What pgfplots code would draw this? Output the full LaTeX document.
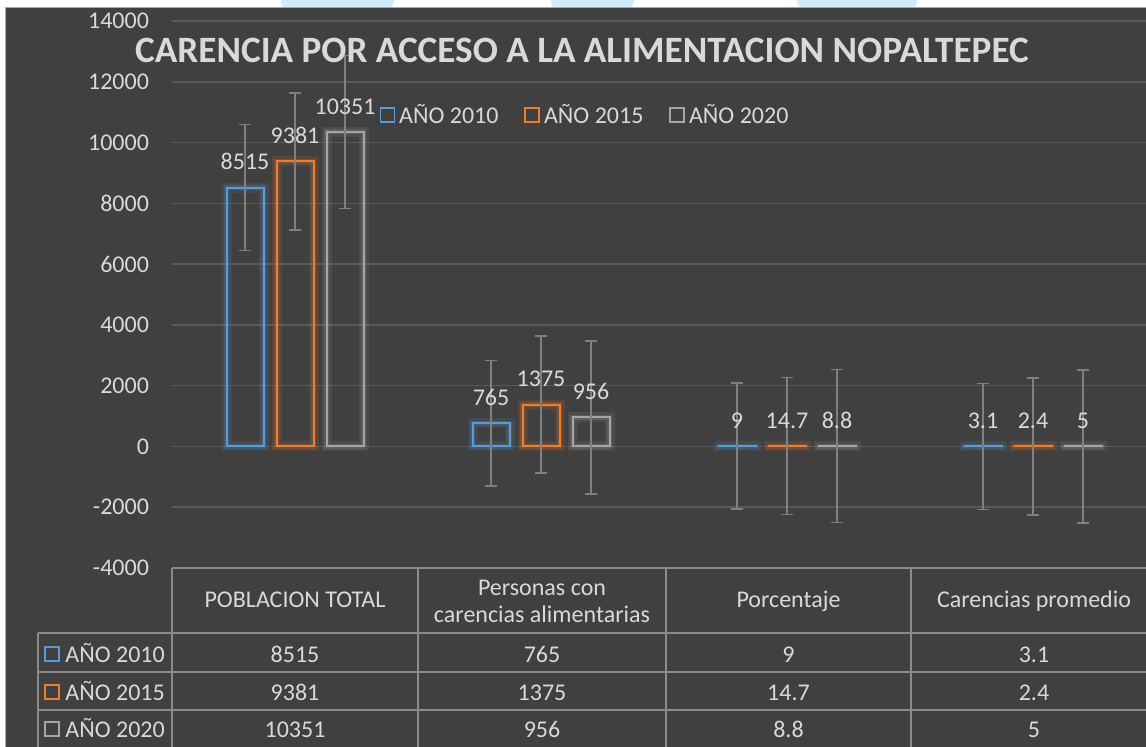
\documentclass[border=0pt]{standalone}
\usepackage{pgfplots}
\pgfplotsset{compat=1.18}
\usepackage{pgfplotstable}
\usepackage{fontspec}
\setmainfont{Carlito}
\definecolor{bg}{HTML}{404040}
\definecolor{gridc}{HTML}{595959}
\definecolor{txt}{HTML}{D9D9D9}
\definecolor{cA}{HTML}{5B9BD5}
\definecolor{cB}{HTML}{ED7D31}
\definecolor{cC}{HTML}{A5A5A5}
\definecolor{errc}{HTML}{808080}
\definecolor{tabc}{HTML}{8A8A8A}
\definecolor{wm}{HTML}{D3EBFA}
\definecolor{brd}{HTML}{A6A6A6}

\pgfplotstableread{
x y e lab
0 8515 2071 8515
1 765 2071 765
2 9 2071 9
3 3.1 2071 3.1
}\dataA
\pgfplotstableread{
x y e lab
0 9381 2252 9381
1 1375 2252 1375
2 14.7 2252 14.7
3 2.4 2252 2.4
}\dataB
\pgfplotstableread{
x y e lab
0 10351 2517 10351
1 956 2517 956
2 8.8 2517 8.8
3 5 2517 5
}\dataC

\newcommand{\fs}{\fontsize{12}{14}\selectfont}

\begin{document}
\begin{tikzpicture}
\path[use as bounding box, clip] (0,0) rectangle (573pt,373pt);
\begin{scope}[shift={(0pt,373pt)}, x=0.5pt, y=-0.5pt]
\fill[white] (0,0) rectangle (1146,746);
\fill[wm, rounded corners=3pt] (281,-10) rectangle (394,8);
\fill[wm, rounded corners=3pt] (551,-10) rectangle (634,8);
\fill[wm, rounded corners=3pt] (797,-10) rectangle (917,8);
\filldraw[fill=bg, draw=brd, line width=0.4pt] (5,7.5) rectangle (1152,752);
\end{scope}

\begin{axis}[
  at={(86pt,89pt)}, anchor=south west,
  scale only axis, width=492pt, height=273.5pt,
  xmin=-0.5, xmax=3.5, ymin=-4000, ymax=14000,
  ytick={-4000,-2000,...,14000},
  scaled y ticks=false,
  xtick=\empty,
  minor xtick={-0.5,0.5,1.5,2.5},
  xminorgrids=true, ymajorgrids=true,
  grid style={gridc, line width=0.75pt},
  minor grid style={gridc, line width=0.75pt},
  axis line style={draw=none},
  major tick length=0pt, minor tick length=0pt,
  tick label style={font=\fs, text=txt},
  /pgf/number format/assume math mode=true,
  /pgf/number format/1000 sep={},
  yticklabel style={xshift=-8pt},
  ybar, bar width=18.5pt,
  clip=false,
  legend style={at={(0.4207,0.828)}, anchor=center, draw=none, fill=none,
    font=\fs, text=txt, inner sep=0pt,
    /tikz/every even column/.append style={column sep=11pt}},
  legend columns=3,
  legend cell align=left,
  every node near coord/.append style={font=\fs, text=txt, yshift=5pt},
  error bars/error bar style={errc, line width=0.75pt},
  error bars/error mark options={errc, line width=0.75pt, mark size=3pt, rotate=90},
]
% glow layers
\addplot[bar shift=-25pt, draw=cA, draw opacity=0.12, line width=5pt, forget plot] table[x=x,y=y]{\dataA};
\addplot[bar shift=-25pt, draw=cA, draw opacity=0.22, line width=2.5pt, forget plot] table[x=x,y=y]{\dataA};
\addplot[bar shift=0pt, draw=cB, draw opacity=0.12, line width=5pt, forget plot] table[x=x,y=y]{\dataB};
\addplot[bar shift=0pt, draw=cB, draw opacity=0.22, line width=2.5pt, forget plot] table[x=x,y=y]{\dataB};
\addplot[bar shift=25pt, draw=cC, draw opacity=0.12, line width=5pt, forget plot] table[x=x,y=y]{\dataC};
\addplot[bar shift=25pt, draw=cC, draw opacity=0.22, line width=2.5pt, forget plot] table[x=x,y=y]{\dataC};
% main bars
\addplot[bar shift=-25pt, draw=cA, line width=1pt,
  legend image code/.code={\draw[cA, line width=0.8pt] (0pt,-3.5pt) rectangle (7pt,3.5pt);},
  nodes near coords, point meta=explicit symbolic,
  error bars/.cd, y dir=both, y explicit]
  table[x=x,y=y,y error=e,meta=lab]{\dataA};
\addlegendentry{AÑO 2010}
\addplot[bar shift=0pt, draw=cB, line width=1pt,
  legend image code/.code={\draw[cB, line width=0.8pt] (0pt,-3.5pt) rectangle (7pt,3.5pt);},
  nodes near coords, point meta=explicit symbolic,
  error bars/.cd, y dir=both, y explicit]
  table[x=x,y=y,y error=e,meta=lab]{\dataB};
\addlegendentry{AÑO 2015}
\addplot[bar shift=25pt, draw=cC, line width=1pt,
  legend image code/.code={\draw[cC, line width=0.8pt] (0pt,-3.5pt) rectangle (7pt,3.5pt);},
  nodes near coords, point meta=explicit symbolic,
  error bars/.cd, y dir=both, y explicit]
  table[x=x,y=y,y error=e,meta=lab]{\dataC};
\addlegendentry{AÑO 2020}
\end{axis}

\begin{scope}[shift={(0pt,373pt)}, x=0.5pt, y=-0.5pt]
\node[anchor=base, inner sep=0pt, text=txt, font=\fontsize{18.6}{22}\selectfont\bfseries]
  at (582,63) {CARENCIA POR ACCESO A LA ALIMENTACION NOPALTEPEC};
% data table
\begin{scope}[tabc, line width=1pt]
\draw (172,568) -- (1152,568);
\draw (38,633) -- (1152,633);
\draw (38,671.5) -- (1152,671.5);
\draw (38,710) -- (1152,710);
\draw (38,633) -- (38,752);
\foreach \xx in {172,418,666,911} \draw (\xx,568) -- (\xx,752);
\end{scope}
\begin{scope}[every node/.style={inner sep=0pt, text=txt, font=\fs, anchor=base}]
\node at (295,607) {POBLACION TOTAL};
\node at (542,595) {Personas con};
\node at (542,622) {carencias alimentarias};
\node at (788.5,607) {Porcentaje};
\node at (1034,607) {Carencias promedio};
\node[anchor=base west] at (65,662) {AÑO 2010};
\node[anchor=base west] at (65,700) {AÑO 2015};
\node[anchor=base west] at (65,737) {AÑO 2020};
\node at (295,662) {8515};
\node at (295,700) {9381};
\node at (295,737) {10351};
\node at (542,662) {765};
\node at (542,700) {1375};
\node at (542,737) {956};
\node at (788.5,662) {9};
\node at (788.5,700) {14.7};
\node at (788.5,737) {8.8};
\node at (1034,662) {3.1};
\node at (1034,700) {2.4};
\node at (1034,737) {5};
\end{scope}
\draw[cA, line width=0.8pt] (45,647) rectangle (59,661);
\draw[cB, line width=0.8pt] (45,685) rectangle (59,699);
\draw[cC, line width=0.8pt] (45,722) rectangle (59,736);
\end{scope}
\end{tikzpicture}
\end{document}
